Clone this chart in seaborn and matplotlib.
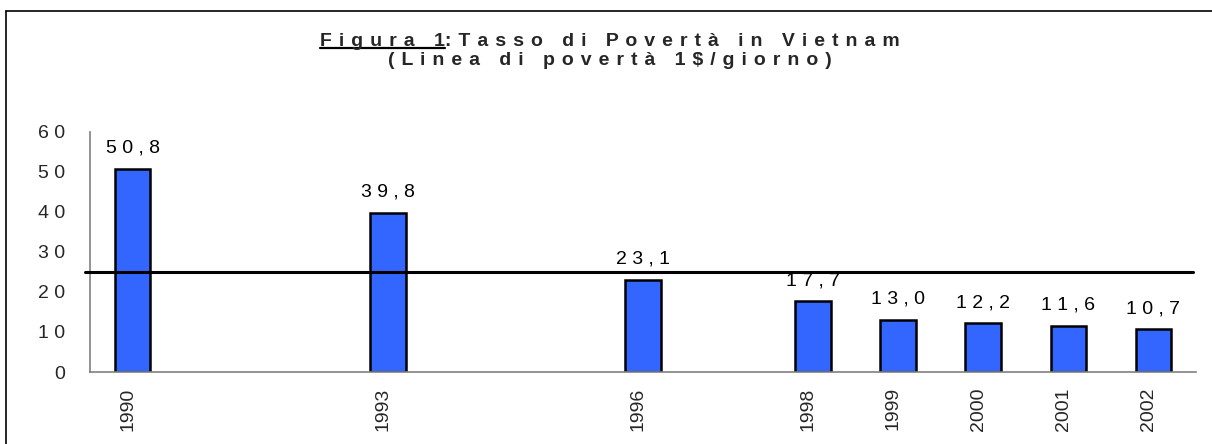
import matplotlib
matplotlib.use("Agg")
import matplotlib.pyplot as plt
import matplotlib.transforms as mtransforms
from matplotlib.lines import Line2D
import seaborn as sns
import pandas as pd

# ---- data ----
years = [1990, 1993, 1996, 1998, 1999, 2000, 2001, 2002]
poverty_rate = [50.8, 39.8, 23.1, 17.7, 13.0, 12.2, 11.6, 10.7]
poverty_line = 25
y_ticks = [0, 10, 20, 30, 40, 50, 60]
title_part1 = "Figura 1"
title_part2 = ":Tasso di Povertà in Vietnam"
title_line2 = "(Linea di povertà 1$/giorno)"

def spaced(s, sep=" "):
    return sep.join(list(s))

sns.set_style("white")
plt.rcParams['font.family'] = ['Liberation Sans', 'DejaVu Sans']

W, H = 1212, 444
fig = plt.figure(figsize=(W / 100, H / 100), dpi=100)
fig.patch.set_facecolor("white")
ax = fig.add_axes([90 / W, 1 - 372 / H, (1196 - 90) / W, (372 - 132) / H])

df = pd.DataFrame({"year": years, "rate": poverty_rate})
sns.barplot(data=df, x="year", y="rate", native_scale=True, width=0.42,
            color="#3366FF", saturation=1, edgecolor="black", linewidth=1.8, ax=ax)

ax.set_xlim(1989.5, 2002.5)
ax.set_ylim(0, 60)
ax.set_xlabel("")
ax.set_ylabel("")

# x ticks at year boundaries, labels at bar centres
all_years = list(range(1990, 2003))
ax.set_xticks([y - 0.5 for y in all_years] + [2002.5])
ax.set_xticklabels([])
ax.set_xticks(years, minor=True)
ax.set_xticklabels([str(y) for y in years], minor=True, rotation=90, fontsize=14)
ax.tick_params(axis="x", which="major", length=7, width=1, color="#808080", direction="out")
ax.tick_params(axis="x", which="minor", length=0, pad=11)
offset = mtransforms.ScaledTranslation(-5 / 100, 0, fig.dpi_scale_trans)
for lab in ax.get_xticklabels(minor=True):
    lab.set_transform(lab.get_transform() + offset)

ax.set_yticks(y_ticks)
ax.set_yticklabels([spaced(str(v)) for v in y_ticks], fontsize=14)
ax.tick_params(axis="y", length=9, width=1, color="#808080", direction="out", pad=9)

for s in ["top", "right"]:
    ax.spines[s].set_visible(False)
for s in ["left", "bottom"]:
    ax.spines[s].set_color("#808080")
    ax.spines[s].set_linewidth(1.2)

# data labels (a label crossing the poverty line is hidden above it)
label_gap = 3.0
clip_bb = mtransforms.TransformedBbox(
    mtransforms.Bbox([[1980, -10], [2010, poverty_line]]), ax.transData)
for x, v in zip(years, poverty_rate):
    txt = spaced(f"{v:.1f}".replace(".", ","))
    t = ax.text(x, v + label_gap, txt, ha="center", va="bottom", fontsize=14,
                color="black", zorder=3)
    if v + label_gap < poverty_line:
        t.set_clip_on(True)
        t.set_clip_box(clip_bb)

# poverty line
ax.plot([1989.44, 2002.46], [poverty_line, poverty_line], color="black", lw=2.2,
        clip_on=False, zorder=5)

# frame (top and left edges visible)
fig.add_artist(Line2D([6 / W, 6 / W], [0, 1 - 11 / H], color="black", lw=1.2,
                      transform=fig.transFigure))
fig.add_artist(Line2D([6 / W, 1], [1 - 11 / H, 1 - 11 / H], color="black", lw=1.2,
                      transform=fig.transFigure))

# title
tfs = 14
sep = " \u200a"
line1 = spaced(title_part1, sep) + spaced(title_part2, sep)
t1 = fig.text(610 / W, 1 - 46 / H, line1, ha="center", va="baseline",
              fontsize=tfs, fontweight="bold")
fig.text(610 / W, 1 - 65 / H, spaced(title_line2, sep), ha="center", va="baseline",
         fontsize=tfs, fontweight="bold")

fig.canvas.draw()
r = fig.canvas.get_renderer()
bb = t1.get_window_extent(r)
tmp = fig.text(0, 0, spaced(title_part1, sep), fontsize=tfs, fontweight="bold")
wb = tmp.get_window_extent(r)
tmp.remove()
uy = H - 48.5
fig.add_artist(Line2D([bb.x0 / W, (bb.x0 + wb.width) / W], [uy / H, uy / H],
                      color="black", lw=1.6, transform=fig.transFigure))

fig.savefig("out.png", dpi=100)
